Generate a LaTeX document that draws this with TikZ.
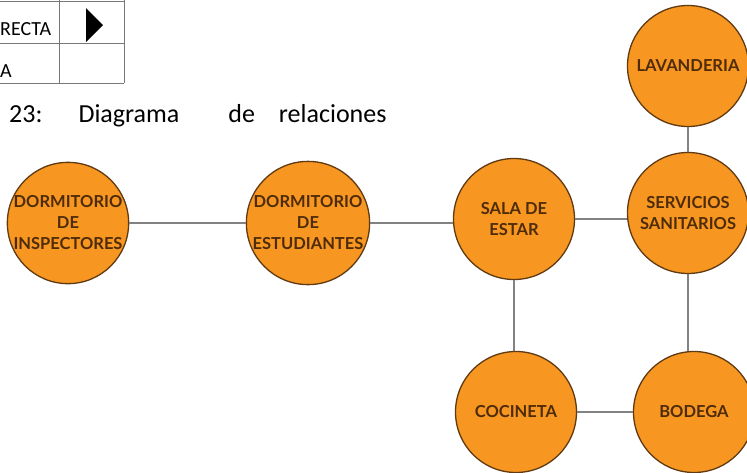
\documentclass[tikz,border=0pt]{standalone}
\usepackage{fontspec}
\setmainfont{Carlito}
\newfontfamily\roomfont{Lato}
\usetikzlibrary{positioning}
\definecolor{roomfill}{RGB}{247,150,32}
\definecolor{roomdraw}{RGB}{95,58,18}
\definecolor{roomtext}{RGB}{78,44,10}
\definecolor{linkgray}{RGB}{130,130,130}
\definecolor{tablegray}{RGB}{120,120,120}

\begin{document}
\begin{tikzpicture}[
  x=1pt, y=-1pt,
  room/.style={
    circle, draw=roomdraw, fill=roomfill, line width=1.3pt,
    minimum size=121pt, inner sep=0pt,
    align=center, text=roomtext,
    font=\roomfont\bfseries\fontsize{16.5}{21}\selectfont
  },
  link/.style={draw=linkgray, line width=1.7pt},
  cell/.style={inner sep=0pt, anchor=base west, font=\fontsize{20}{22}\selectfont}
]
\useasboundingbox (0,0) rectangle (747,472);

% Legend table (cut off at the left edge)
\draw[tablegray, line width=0.9pt] (0,1) -- (124,1) (0,43) -- (124,43) (0,83) -- (124,83)
  (59,0) -- (59,83) (124,0) -- (124,83);
\node[cell] (direct) at (0,35) {RECTA};
\node[cell] (other) at (0,77) {A};
\fill (86,8) -- (103,25) -- (86,42) -- cycle;

% Caption
\node[inner sep=0pt, anchor=base west, font=\fontsize{26}{30}\selectfont] (caption) at (9,122)
  {23:\hspace{36pt}Diagrama\hspace{49pt}de\hspace{24pt}relaciones};

% Rooms
\node[room] (insp) at (68, 223) {DORMITORIO\\DE\\INSPECTORES};
\node[room] (est)  at (308,223) {DORMITORIO\\DE\\ESTUDIANTES};
\node[room] (sala) at (514,219) {SALA DE\\ESTAR};
\node[room] (serv) at (688,213) {SERVICIOS\\SANITARIOS};
\node[room] (lav)  at (688, 66) {LAVANDERIA};
\node[room] (coc)  at (516,412) {COCINETA};
\node[room] (bod)  at (694,412) {BODEGA};

% Connections
\draw[link] (insp.east) -- (est.west);
\draw[link] (est.east) -- (sala.west |- est.east);
\draw[link] (sala.east) -- (serv.west |- sala.east);
\draw[link] (lav.south) -- (serv.north);
\draw[link] (sala.south) -- (coc.north -| sala.south);
\draw[link] (serv.south) -- (bod.north -| serv.south);
\draw[link] (coc.east) -- (bod.west);

\end{tikzpicture}
\end{document}
